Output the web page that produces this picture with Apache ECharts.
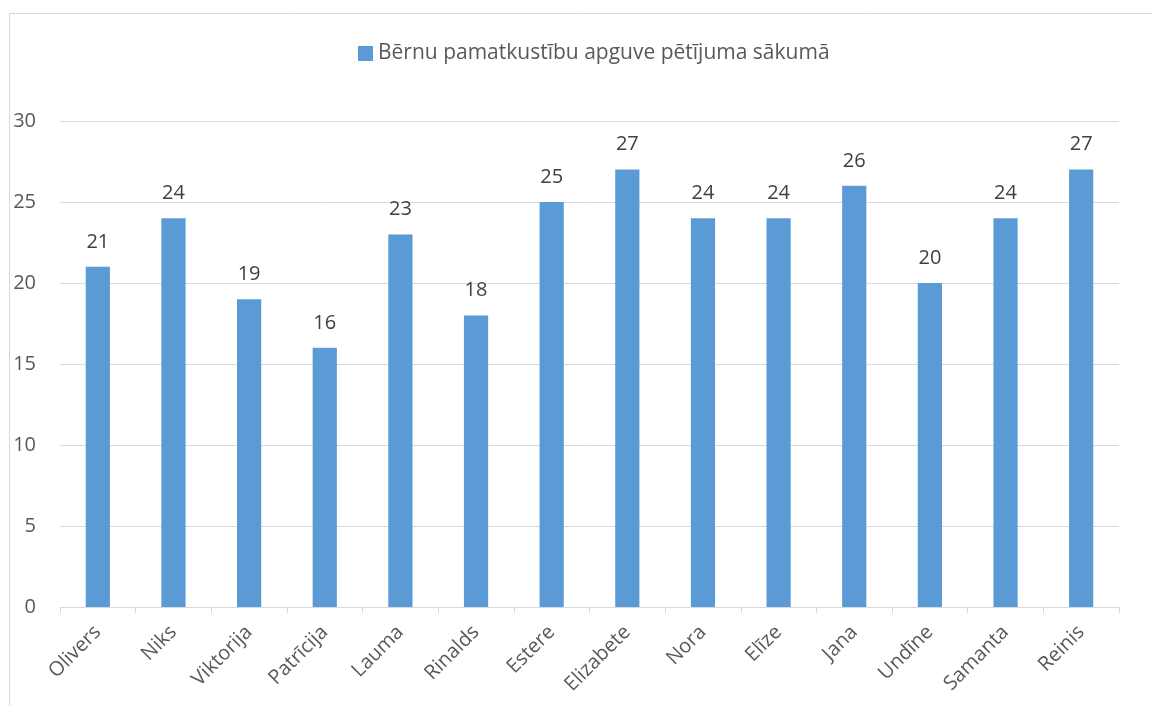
<!DOCTYPE html>
<html>
<head>
<meta charset="utf-8">
<script src="https://cdn.jsdelivr.net/npm/echarts@6/dist/echarts.min.js"></script>
<style>
  html, body { margin: 0; padding: 0; background: #fff; }
  #chart { width: 1152px; height: 706px; }
</style>
</head>
<body>
<div id="chart"></div>
<script>
const names = ['Olivers', 'Niks', 'Viktorija', 'Patrīcija', 'Lauma', 'Rinalds', 'Estere',
  'Elizabete', 'Nora', 'Elīze', 'Jana', 'Undīne', 'Samanta', 'Reinis']
const scores = [21, 24, 19, 16, 23, 18, 25, 27, 24, 24, 26, 20, 24, 27]
const seriesName = 'Bērnu pamatkustību apguve pētījuma sākumā'

const chart = echarts.init(document.getElementById('chart'))
chart.setOption({
  animation: false,
  textStyle: { fontFamily: 'Open Sans' },
  // outer frame of the original chart, cut by the page edge
  graphic: [{
    type: 'rect',
    shape: { x: 9.5, y: 13.5, width: 1200, height: 800 },
    style: { fill: 'none', stroke: '#d9d9d9', lineWidth: 1 },
    silent: true
  }],
  legend: {
    left: 353,
    top: 38,
    icon: 'rect',
    itemWidth: 15,
    itemHeight: 15,
    itemGap: 5,
    textStyle: { color: '#595959', fontSize: 21, fontFamily: 'Open Sans' },
    data: [seriesName]
  },
  grid: { left: 60, right: 33, top: 121, bottom: 99, containLabel: false },
  xAxis: {
    type: 'category',
    data: names,
    axisLine: { lineStyle: { color: '#d9d9d9', width: 1 } },
    axisTick: { show: true, length: 6, lineStyle: { color: '#d9d9d9' } },
    axisLabel: { rotate: 45, color: '#595959', fontSize: 20, margin: 22, interval: 0 }
  },
  yAxis: {
    type: 'value',
    min: 0,
    max: 30,
    interval: 5,
    axisLine: { show: false },
    axisTick: { show: false },
    splitLine: { lineStyle: { color: '#d9d9d9', width: 1 } },
    axisLabel: { color: '#595959', fontSize: 20, margin: 24 }
  },
  series: [{
    name: seriesName,
    type: 'bar',
    data: scores,
    barWidth: '32%',
    itemStyle: { color: '#5b9bd5' },
    label: { show: true, position: 'top', distance: 15, color: '#404040', fontSize: 20 }
  }]
})
</script>
</body>
</html>
